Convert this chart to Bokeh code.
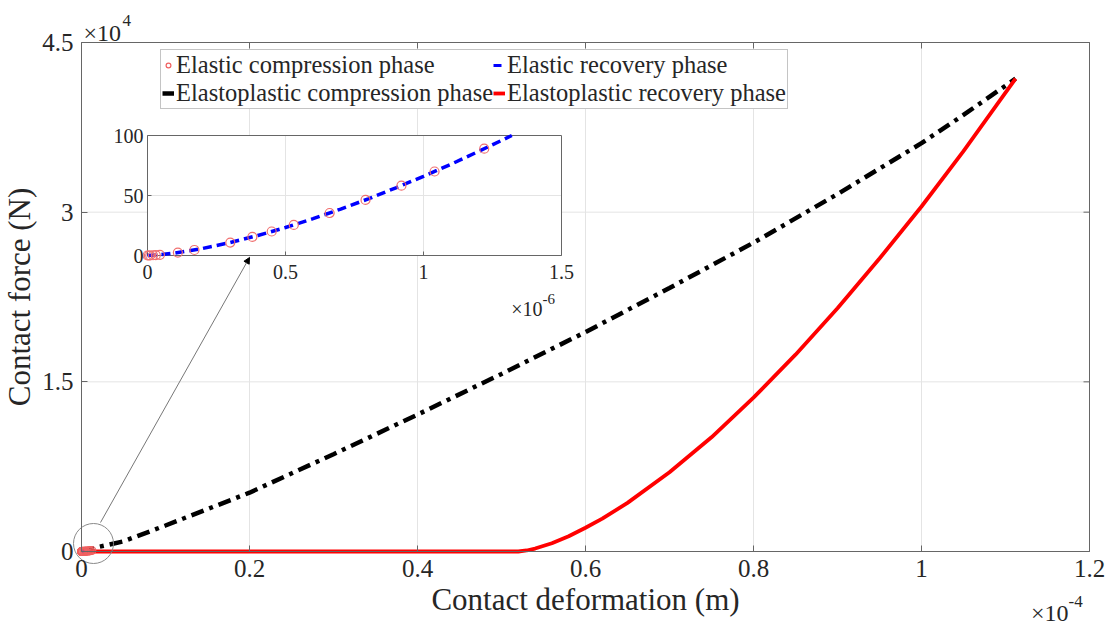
from bokeh.plotting import figure
from bokeh.models import (Range1d, FixedTicker, PrintfTickFormatter, Legend, LegendItem,
                          Label, Arrow, NormalHead)
from bokeh.core.properties import value
from bokeh.embed import file_html
from bokeh.resources import INLINE

FONT = "Liberation Serif"

# ---------------- data (main plot: deformation in 1e-4 m, force in 1e4 N) ----------------
epc_x = [0, 0.02, 0.05, 0.1, 0.2, 0.3, 0.4, 0.5, 0.6, 0.7, 0.8, 0.9, 1.0, 1.05, 1.112]
epc_y = [0, 0.04, 0.09, 0.23, 0.52, 0.86, 1.21, 1.57, 1.94, 2.33, 2.73, 3.16, 3.61, 3.86, 4.18]

epr_x = [0, 0.1, 0.2, 0.3, 0.4, 0.5, 0.52, 0.53, 0.54, 0.56, 0.58, 0.6, 0.62, 0.65, 0.7,
         0.75, 0.8, 0.85, 0.9, 0.95, 1.0, 1.05, 1.112]
epr_y = [0, 0, 0, 0, 0, 0, 0, 0.009, 0.026, 0.073, 0.135, 0.21, 0.29, 0.43, 0.70,
         1.01, 1.36, 1.74, 2.15, 2.59, 3.05, 3.54, 4.18]

# ---------------- inset data (deformation in 1e-6 m, force in N) ----------------
ec_x = [0, 0.005, 0.01, 0.02, 0.03, 0.045, 0.11, 0.17, 0.30, 0.38, 0.45, 0.53, 0.66, 0.79,
        0.92, 1.04, 1.22]
ec_y = [0, 0, 0, 0.2, 0.3, 0.6, 2.4, 4.6, 10.8, 15.5, 20, 25.5, 35.4, 46.3, 58.2, 70, 89]

er_x = [0, 0.05, 0.1, 0.2, 0.3, 0.4, 0.5, 0.6, 0.7, 0.8, 0.9, 1.0, 1.1, 1.2, 1.32]
er_y = [0, 0.74, 2.1, 5.9, 10.8, 16.7, 23.3, 30.7, 38.7, 47.2, 56.4, 66, 76.1, 86.8, 100]

# ticks
main_x_ticks = [0, 0.2, 0.4, 0.6, 0.8, 1.0, 1.2]
main_y_ticks = [0, 1.5, 3, 4.5]
inset_x_ticks = [0, 0.5, 1, 1.5]
inset_x_labels = ["0", "0.5", "1", "1.5"]
inset_y_ticks = [0, 50, 100]
inset_y_labels = ["0", "50", "100"]

# ---------------- layout (pixels) ----------------
W, H = 1113, 630
FL, FR, FT, FB = 81, 1089, 42, 551          # main axes box
IL, IR, IT, IB = 147, 561, 135, 255         # inset box
main_xlim = (0, 1.2)
main_ylim = (0, 4.5)
inset_xlim = (0, 1.5)
inset_ylim = (0, 100)

px_x = (FR - FL) / (main_xlim[1] - main_xlim[0])
px_y = (FB - FT) / (main_ylim[1] - main_ylim[0])

# the plotting frame covers the whole canvas; the axes are fixed at the box edges
p = figure(width=W, height=H, output_backend="svg", toolbar_location=None, title=None,
           x_range=Range1d(main_xlim[0] - FL / px_x, main_xlim[1] + (W - FR) / px_x),
           y_range=Range1d(main_ylim[0] - (H - FB) / px_y, main_ylim[1] + FT / px_y),
           min_border=0)
p.background_fill_color = "white"
p.border_fill_color = "white"
p.outline_line_color = None
p.grid.visible = False

def px_to_main(xp, yp):
    return (main_xlim[0] + (xp - FL) / px_x, main_ylim[0] + (FB - yp) / px_y)

# inset ranges mapped onto the sub-rectangle of the canvas
sx = (IR - IL) / (inset_xlim[1] - inset_xlim[0])
sy = (IB - IT) / (inset_ylim[1] - inset_ylim[0])
p.extra_x_ranges = {"ix": Range1d(inset_xlim[0] - IL / sx, inset_xlim[1] + (W - IR) / sx)}
p.extra_y_ranges = {"iy": Range1d(inset_ylim[0] - (H - IB) / sy, inset_ylim[1] + IT / sy)}

# axes styling
AX = "#666666"
for ax in (p.xaxis, p.yaxis):
    ax.axis_line_color = AX
    ax.major_tick_line_color = AX
    ax.major_tick_in = 6
    ax.major_tick_out = 0
    ax.minor_tick_line_color = None
    ax.major_label_text_font = FONT
    ax.major_label_text_font_size = "25px"
    ax.major_label_text_color = "#262626"
    ax.axis_label_text_font = FONT
    ax.axis_label_text_font_size = "31px"
    ax.axis_label_text_font_style = "normal"
    ax.axis_label_text_color = "#262626"
    ax.formatter = PrintfTickFormatter(format="%g")
p.xaxis.ticker = FixedTicker(ticks=main_x_ticks)
p.yaxis.ticker = FixedTicker(ticks=main_y_ticks)
p.xaxis.fixed_location = main_ylim[0]
p.yaxis.fixed_location = main_xlim[0]
p.xaxis.bounds = main_xlim
p.yaxis.bounds = main_ylim
p.xaxis.axis_label = "Contact deformation (m)"
p.yaxis.axis_label = "Contact force (N)"
p.xaxis.major_label_standoff = 8
p.yaxis.major_label_standoff = 8
p.xaxis.axis_label_standoff = 2
p.yaxis.axis_label_standoff = 2

# grid lines at the ticks, limited to the axes box
GRID = "#e4e4e4"
p.segment(x0=main_x_ticks, y0=[main_ylim[0]] * len(main_x_ticks), x1=main_x_ticks,
          y1=[main_ylim[1]] * len(main_x_ticks), line_color=GRID, line_width=1)
p.segment(x0=[main_xlim[0]] * len(main_y_ticks), y0=main_y_ticks,
          x1=[main_xlim[1]] * len(main_y_ticks), y1=main_y_ticks, line_color=GRID, line_width=1)
# top and right box edges with inward ticks
p.segment(x0=[main_xlim[0], main_xlim[1]], y0=[main_ylim[1], main_ylim[0]],
          x1=[main_xlim[1], main_xlim[1]], y1=[main_ylim[1], main_ylim[1]], line_color=AX,
          line_width=1)
TK = 6
p.segment(x0=main_x_ticks, y0=[main_ylim[1]] * len(main_x_ticks), x1=main_x_ticks,
          y1=[main_ylim[1] - TK / px_y] * len(main_x_ticks), line_color=AX)
p.segment(x0=[main_xlim[1]] * len(main_y_ticks), y0=main_y_ticks,
          x1=[main_xlim[1] - TK / px_x] * len(main_y_ticks), y1=main_y_ticks, line_color=AX)

# ---------------- main curves ----------------
r_epc = p.line(epc_x, epc_y, line_color="black", line_width=4.5, line_dash="13 6 4 6")
r_epr = p.line(epr_x, epr_y, line_color="#ff0000", line_width=3.8)
# elastic phases at main scale (unit conversion 1e-6 m -> 1e-4 m, N -> 1e4 N)
r_er = p.line([v * 0.01 for v in er_x], [v * 1e-4 for v in er_y], line_color="#0000ff",
              line_width=3, line_dash="8 5")
r_ec = p.scatter([v * 0.01 for v in ec_x], [v * 1e-4 for v in ec_y], marker="circle", size=8,
                 fill_alpha=0, line_color="#f06060", line_width=1.2)

# zoom marker circle (40 px diameter) and arrow to the inset
zc = px_to_main(93, 543)
p.scatter([zc[0]], [zc[1]], marker="circle", size=40, fill_alpha=0, line_color="#8a8a8a",
          line_width=1)
a0 = px_to_main(100, 522)
a1 = px_to_main(249, 257)
p.add_layout(Arrow(end=NormalHead(size=6, fill_color="black", line_color="black"),
                   x_start=a0[0], y_start=a0[1], x_end=a1[0], y_end=a1[1],
                   line_color="#777777", line_width=1))

# ---------------- inset ----------------
kw = dict(x_range_name="ix", y_range_name="iy")
p.quad(left=[inset_xlim[0]], right=[inset_xlim[1]], bottom=[inset_ylim[0]], top=[inset_ylim[1]],
       fill_color="white", line_color=None, **kw)
gx = [t for t in inset_x_ticks if inset_xlim[0] < t < inset_xlim[1]]
gy = [t for t in inset_y_ticks if inset_ylim[0] < t < inset_ylim[1]]
p.segment(x0=gx, y0=[inset_ylim[0]] * len(gx), x1=gx, y1=[inset_ylim[1]] * len(gx),
          line_color=GRID, line_width=1, **kw)
p.segment(x0=[inset_xlim[0]] * len(gy), y0=gy, x1=[inset_xlim[1]] * len(gy), y1=gy,
          line_color=GRID, line_width=1, **kw)
tl = 4
p.segment(x0=inset_x_ticks, y0=[inset_ylim[0]] * 4, x1=inset_x_ticks,
          y1=[inset_ylim[0] + tl / sy] * 4, line_color=AX, **kw)
p.segment(x0=[inset_xlim[0]] * 3, y0=inset_y_ticks, x1=[inset_xlim[0] + tl / sx] * 3,
          y1=inset_y_ticks, line_color=AX, **kw)
p.quad(left=[inset_xlim[0]], right=[inset_xlim[1]], bottom=[inset_ylim[0]], top=[inset_ylim[1]],
       fill_alpha=0, line_color=AX, line_width=1, **kw)

p.line(er_x, er_y, line_color="#0000ff", line_width=3.5, line_dash="9 5", **kw)
p.scatter(ec_x, ec_y, marker="circle", size=9, fill_alpha=0, line_color="#f07070",
          line_width=1.2, **kw)

p.text(x=inset_x_ticks, y=[inset_ylim[0] - 9 / sy] * 4, text=inset_x_labels,
       text_font=value(FONT), text_font_size="20px", text_align="center",
       text_baseline="top", text_color="#262626", **kw)
p.text(x=[inset_xlim[0] - 4 / sx] * 3, y=inset_y_ticks, text=inset_y_labels,
       text_font=value(FONT), text_font_size="20px", text_align="right",
       text_baseline="middle", text_color="#262626", **kw)

# ---------------- exponent labels ----------------
def exp_label(base_xy, sup_xy, sup, base_align, bsize, ssize, **k):
    bx, by = base_xy
    ux, uy = sup_xy
    p.add_layout(Label(x=bx, y=by, text="\u00d710", text_font=FONT, text_font_size=bsize,
                       text_align=base_align, text_baseline="alphabetic",
                       text_color="#262626", **k))
    p.add_layout(Label(x=ux, y=uy, text=sup, text_font=FONT, text_font_size=ssize,
                       text_align="left", text_baseline="alphabetic", text_color="#262626",
                       **k))

exp_label(px_to_main(83, 32), px_to_main(122, 20), "4", "left", "24px", "17px")
exp_label(px_to_main(1068, 612), px_to_main(1068, 601), "-4", "right", "24px", "17px")
exp_label((inset_xlim[0] + (542 - IL) / sx, inset_ylim[0] - (308 - IB) / sy),
          (inset_xlim[0] + (542 - IL) / sx, inset_ylim[0] - (298 - IB) / sy), "-6",
          "right", "20px", "15px", x_range_name="ix", y_range_name="iy")

# ---------------- legend ----------------
legend = Legend(items=[
    LegendItem(label="Elastic compression phase", renderers=[r_ec]),
    LegendItem(label="Elastic recovery phase", renderers=[r_er]),
    LegendItem(label="Elastoplastic compression phase", renderers=[r_epc]),
    LegendItem(label="Elastoplastic recovery phase", renderers=[r_epr]),
], orientation="horizontal", ncols=2, location=(160, H - 109))
legend.label_text_font = FONT
legend.label_text_font_size = "24.5px"
legend.label_text_color = "#262626"
legend.label_height = 20
legend.label_standoff = 2
legend.glyph_width = 12
legend.glyph_height = 20
legend.spacing = 0
legend.padding = 1
legend.margin = 0
legend.border_line_color = "#8a8a8a"
legend.border_line_width = 1
legend.background_fill_color = "white"
legend.background_fill_alpha = 1
p.add_layout(legend)

open("out.html", "w").write(file_html(p, INLINE))
